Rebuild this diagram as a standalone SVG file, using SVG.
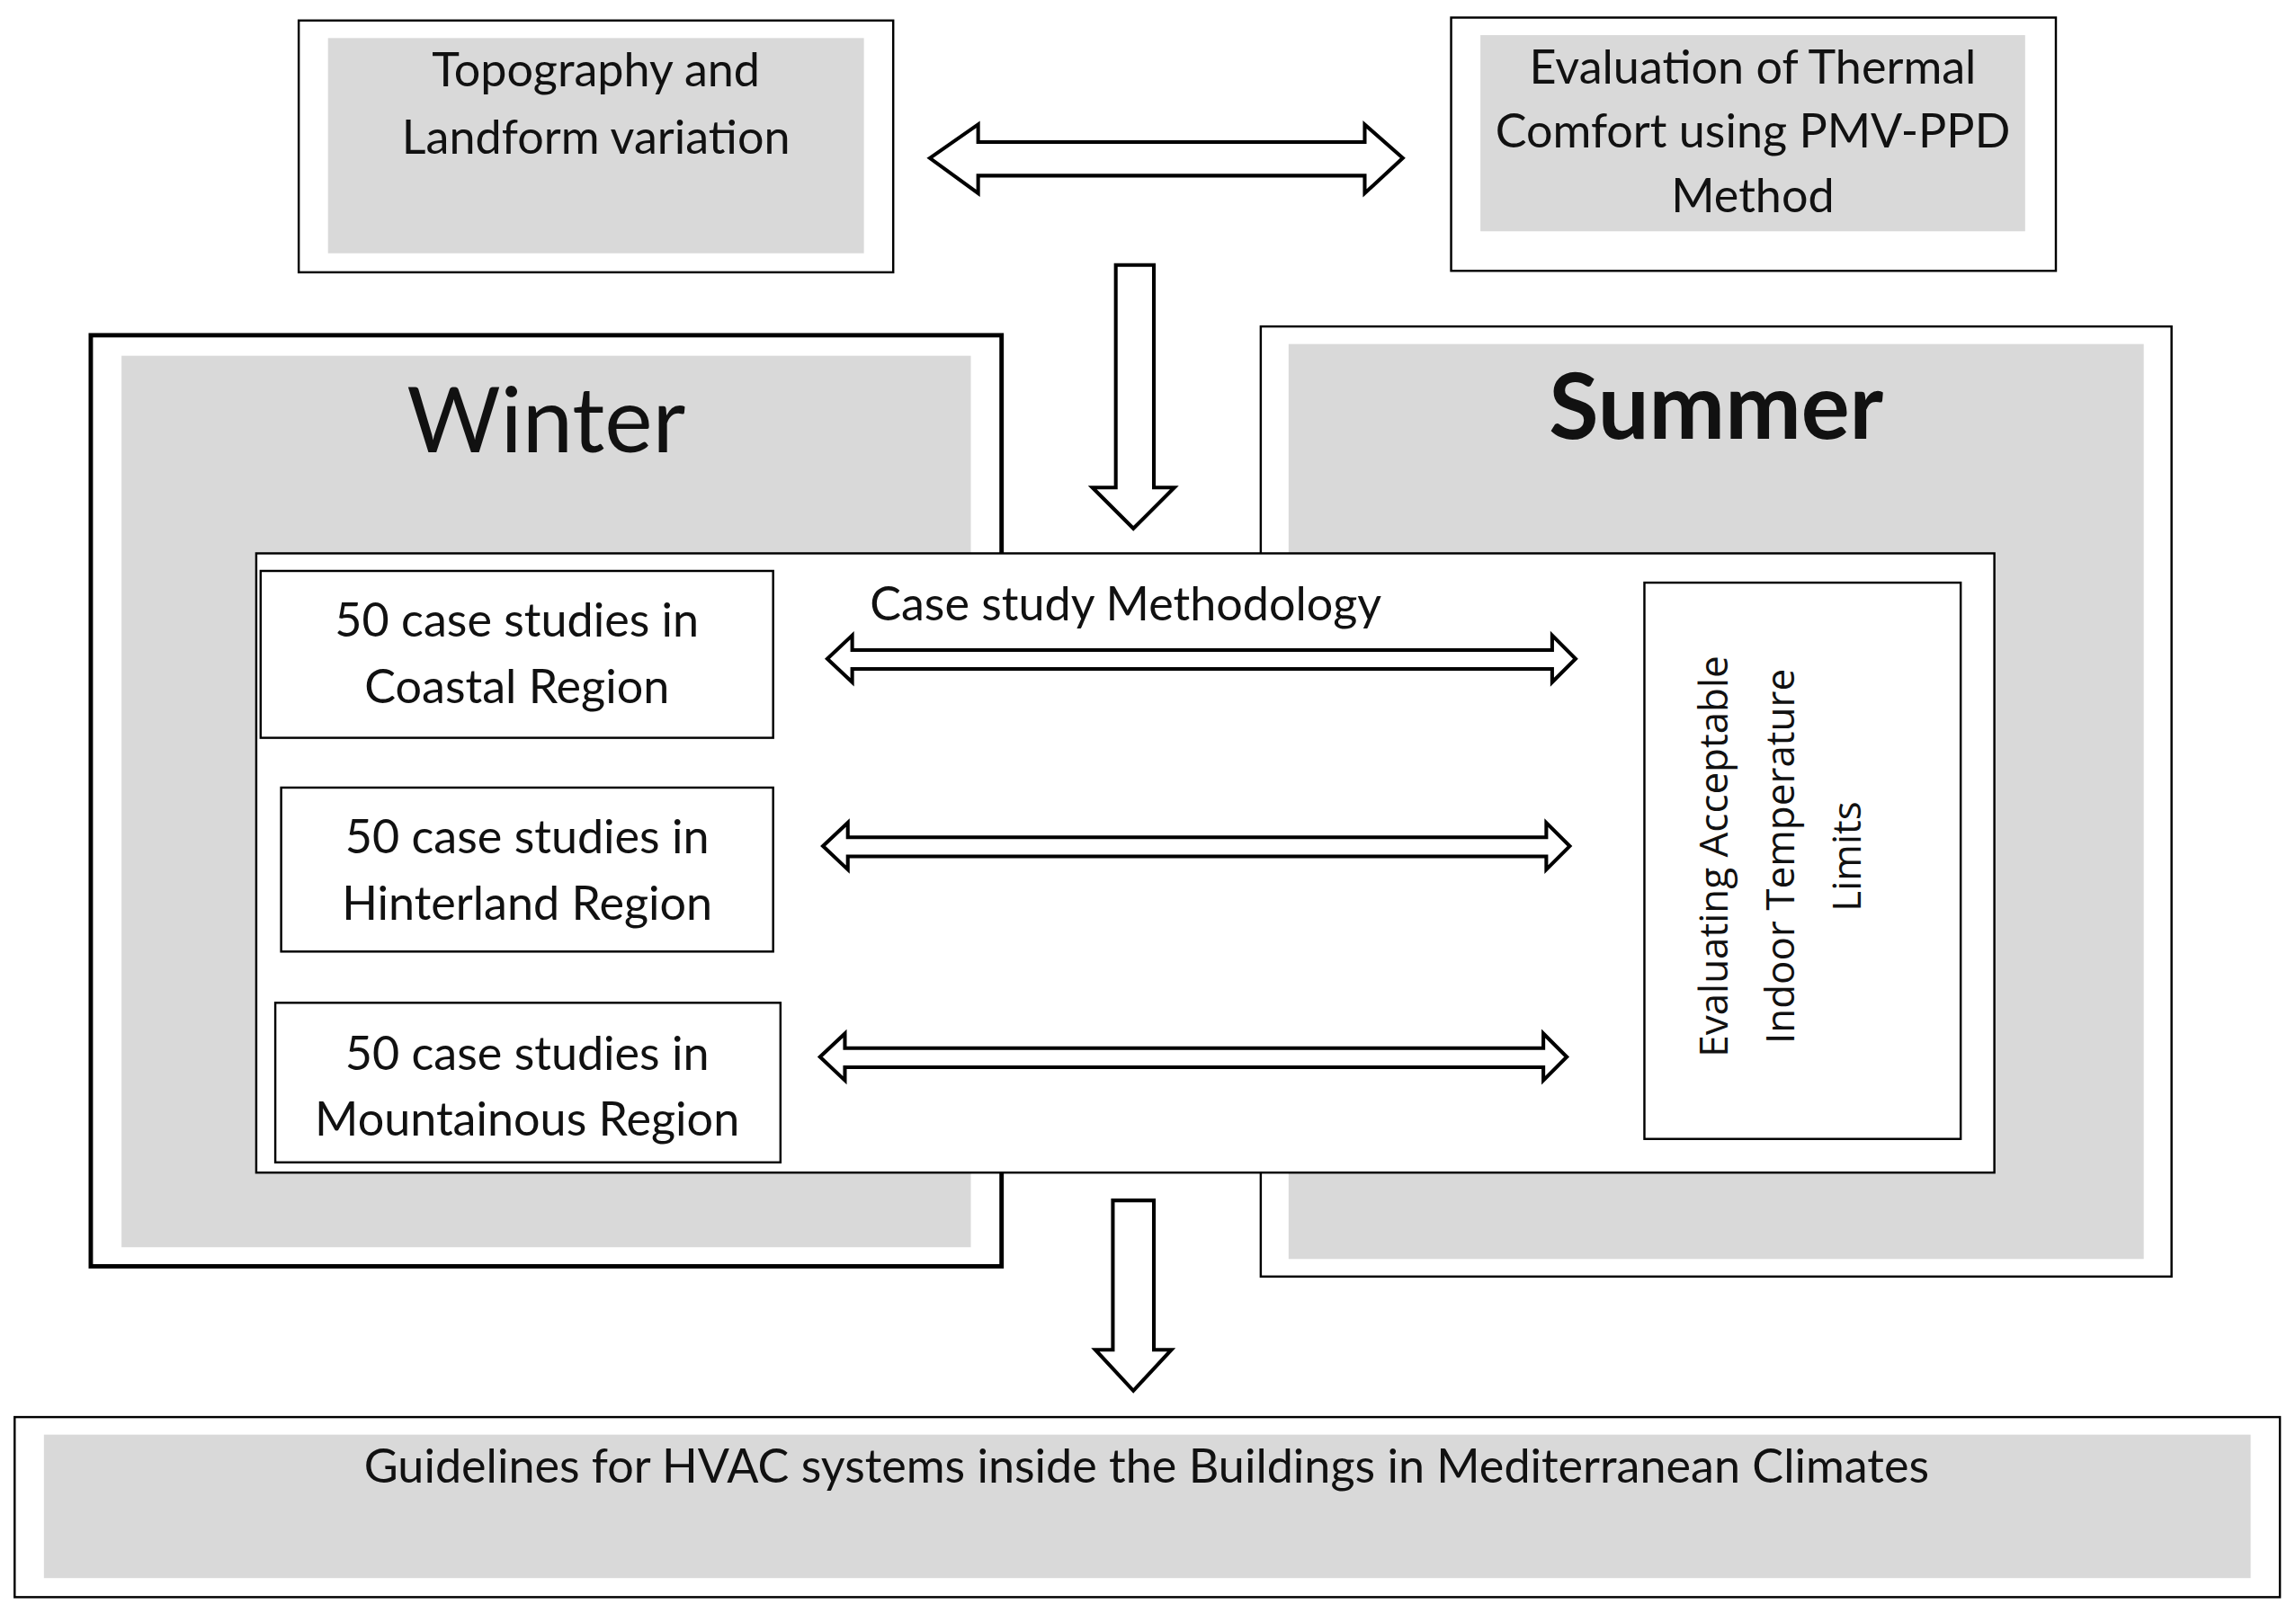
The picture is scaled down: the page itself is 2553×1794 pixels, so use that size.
<svg xmlns="http://www.w3.org/2000/svg" width="2553" height="1794" viewBox="0 0 2553 1794">
<style>
.o{fill:#fff;stroke:#000;stroke-width:1.5}
.g{fill:#d9d9d9}
.w{fill:#fff;stroke:#000;stroke-width:1.5}
.t{font-family:Lato,"Liberation Sans",sans-serif;font-size:32px;fill:#111;text-anchor:middle}
.r{font-family:"Open Sans","Liberation Sans",sans-serif;font-size:27px;fill:#111;text-anchor:middle}
.a{fill:#fff;stroke:#000;stroke-width:2.5;stroke-linejoin:miter}
</style>
<rect width="2553" height="1794" fill="#fff"/>
<g transform="scale(1.6282)">
<g id="topography"><rect class="o" x="204" y="14" width="406" height="172"/><rect class="g" x="224" y="26" width="366" height="147"/>
<text class="t" x="407" y="59">Topography and</text><text class="t" x="407" y="105">Landform variation</text></g>
<g id="evaluation"><rect class="o" x="991" y="12" width="413" height="173"/><rect class="g" x="1011" y="24" width="372" height="134"/>
<text class="t" x="1197" y="57">Evaluation of Thermal</text><text class="t" x="1197" y="101">Comfort using PMV-PPD</text><text class="t" x="1197" y="145">Method</text></g>
<g id="winter"><rect x="62" y="229" width="622" height="636" fill="#fff" stroke="#000" stroke-width="3"/><rect class="g" x="83" y="243" width="580" height="609"/>
<text class="t" x="373" y="309" style="font-size:62px">Winter</text></g>
<g id="summer"><rect class="o" x="861" y="223" width="622" height="649"/><rect class="g" x="880" y="235" width="584" height="625"/>
<text class="t" x="1172" y="300" style="font-size:62px;font-weight:bold">Summer</text></g>
<g id="methodology"><rect class="w" x="175" y="378" width="1187" height="423"/>
<text class="t" x="594" y="424" style="text-anchor:start">Case study Methodology</text></g>
<g id="coastal"><rect class="w" x="178" y="390" width="350" height="114"/><text class="t" x="353" y="435">50 case studies in</text><text class="t" x="353" y="480">Coastal Region</text></g>
<g id="hinterland"><rect class="w" x="192" y="538" width="336" height="112"/><text class="t" x="360" y="583">50 case studies in</text><text class="t" x="360" y="628">Hinterland Region</text></g>
<g id="mountainous"><rect class="w" x="188" y="685" width="345" height="109"/><text class="t" x="360" y="731">50 case studies in</text><text class="t" x="360" y="776">Mountainous Region</text></g>
<g id="limits"><rect class="w" x="1123" y="398" width="216" height="380"/>
<g transform="translate(1231,585) rotate(-90)"><text class="r" x="0" y="-51">Evaluating Acceptable</text><text class="r" x="0" y="-6">Indoor Temperature</text><text class="r" x="0" y="40">Limits</text></g></g>
<g id="guidelines"><rect class="o" x="10" y="968" width="1547" height="123"/><rect class="g" x="30" y="980" width="1507" height="98"/>
<text class="t" x="783" y="1013">Guidelines for HVAC systems inside the Buildings in Mediterranean Climates</text></g>
<g id="connectors">
<path class="a" d="M635,108 L668,85 L668,97 L932,97 L932,85 L958,108 L932,132 L932,120 L668,120 L668,132 Z"/>
<path class="a" d="M762,181 L788,181 L788,333 L802,333 L774,361 L746,333 L762,333 Z"/>
<path class="a" d="M760,820 L788,820 L788,922 L800,922 L774,950 L748,922 L760,922 Z"/>
<path class="a" d="M565,450 L582,434 L582,444 L1060,444 L1060,434 L1076,450 L1060,466 L1060,457 L582,457 L582,466 Z"/>
<path class="a" d="M562,578 L579,562 L579,572 L1056,572 L1056,562 L1072,578 L1056,594 L1056,585 L579,585 L579,594 Z"/>
<path class="a" d="M560,722 L577,706 L577,716 L1054,716 L1054,706 L1070,722 L1054,738 L1054,729 L577,729 L577,738 Z"/>
</g>
</g>
</svg>
